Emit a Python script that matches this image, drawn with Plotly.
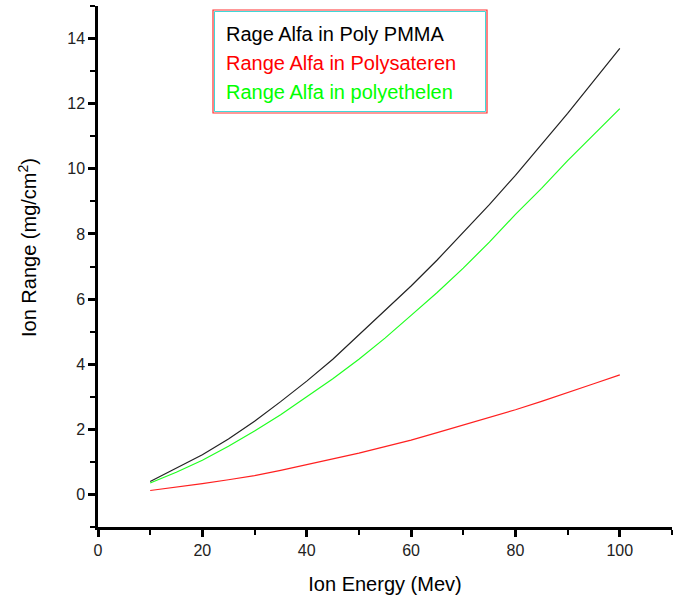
import plotly.graph_objects as go

# Alpha-particle energy (MeV) and projected range (mg/cm^2) in three polymers
energy = [10, 15, 20, 25, 30, 35, 40, 45, 50, 55, 60, 65, 70, 75, 80, 85, 90, 95, 100]
range_pmma = [0.40, 0.80, 1.22, 1.70, 2.25, 2.85, 3.48, 4.15, 4.90, 5.65, 6.40,
              7.20, 8.05, 8.90, 9.80, 10.75, 11.70, 12.70, 13.70]
range_polystyrene = [0.12, 0.22, 0.33, 0.45, 0.58, 0.74, 0.92, 1.08, 1.27, 1.47, 1.67,
                     1.90, 2.13, 2.37, 2.60, 2.86, 3.12, 3.40, 3.67]
range_polyethylene = [0.35, 0.68, 1.05, 1.48, 1.95, 2.45, 3.00, 3.55, 4.15, 4.80, 5.50,
                      6.20, 6.95, 7.75, 8.60, 9.40, 10.25, 11.05, 11.85]

series_names = ["Rage Alfa in Poly PMMA", "Range Alfa in Polysateren", "Range Alfa in polyethelen"]
series_values = [range_pmma, range_polystyrene, range_polyethylene]
series_colors = ["#000000", "#ff0000", "#00ff00"]
line_colors = ["#222222", "#ff2020", "#20ff20"]

FONT = "Arial, Liberation Sans, sans-serif"

fig = go.Figure()
for name, vals, col in zip(series_names, series_values, line_colors):
    fig.add_trace(go.Scatter(x=energy, y=vals, mode="lines", name=name,
                             line=dict(color=col, width=1.2), showlegend=False))

# Pixel helpers relative to the plotting area
PX0, PX1, PY0, PY1 = 98, 672, 6, 527
def px(x):
    return (x - PX0) / (PX1 - PX0)
def py(y):
    return (PY1 - y) / (PY1 - PY0)

# Legend: coloured series names inside a double-edged frame
fig.add_shape(type="rect", xref="paper", yref="paper",
              x0=px(213), x1=px(487), y0=py(113), y1=py(10),
              line=dict(color="#ff3030", width=1.2), fillcolor="white", layer="above")
fig.add_shape(type="rect", xref="paper", yref="paper",
              x0=px(214.5), x1=px(485.5), y0=py(111.5), y1=py(11.5),
              line=dict(color="#40d8d8", width=1), layer="above")
for i, (name, col) in enumerate(zip(series_names, series_colors)):
    fig.add_annotation(xref="paper", yref="paper",
                       x=px(224), y=py(34 + 29 * i),
                       xanchor="left", yanchor="middle", text=name, showarrow=False,
                       font=dict(family=FONT, size=20, color=col))

# Vertical axis title
fig.add_annotation(xref="paper", yref="paper", x=px(27), y=py(248),
                   xanchor="center", yanchor="middle", textangle=-90, showarrow=False,
                   text="Ion Range (mg/cm<sup>2</sup>)",
                   font=dict(family=FONT, size=20, color="black"))

axis_common = dict(showline=True, linecolor="black", linewidth=2.5, ticks="outside",
                   ticklen=7, tickwidth=2.5, tickcolor="black", showgrid=False,
                   zeroline=False, mirror=False,
                   tickfont=dict(family=FONT, size=16, color="#222"),
                   title_font=dict(family=FONT, size=20, color="black"))

fig.update_xaxes(range=[0, 110], dtick=20, tick0=0,
                 minor=dict(dtick=10, tick0=0, ticks="outside", ticklen=5, tickwidth=2, tickcolor="black"),
                 title_text="Ion Energy (Mev)", title_standoff=20, **axis_common)
fig.update_yaxes(range=[-1, 15], dtick=2, tick0=0,
                 minor=dict(dtick=1, tick0=0, ticks="outside", ticklen=5, tickwidth=2, tickcolor="black"),
                 **axis_common)

fig.update_layout(width=686, height=606, plot_bgcolor="white", paper_bgcolor="white",
                  margin=dict(l=98, r=14, t=6, b=79))

fig.write_html("out.html")
